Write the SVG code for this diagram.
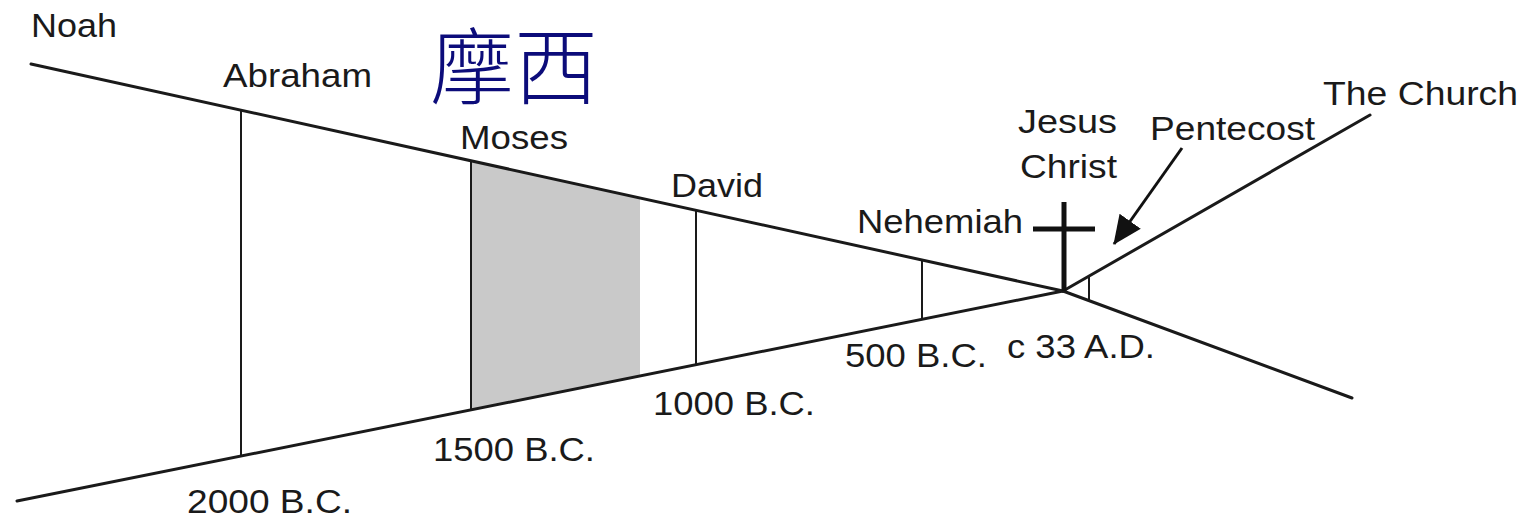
<svg xmlns="http://www.w3.org/2000/svg" width="1536" height="521" viewBox="0 0 1536 521">
<style>
.t{font-family:"Liberation Sans",Arial,sans-serif;font-size:34px;fill:#1a1a1a}
.ln{stroke:#1a1a1a;stroke-width:3;fill:none;stroke-linecap:round}
.v{stroke:#1a1a1a;stroke-width:2;fill:none}
.zh{font-family:"Noto Sans CJK TC","Noto Sans CJK SC",sans-serif;font-weight:300;font-size:84px;fill:#0c0c7a}
</style>
<defs>
<marker id="ah" markerUnits="userSpaceOnUse" markerWidth="30" markerHeight="28" refX="28" refY="13" orient="auto" viewBox="0 0 30 26">
<path d="M0,0 L29,13 L0,26 Z" fill="#111"/>
</marker>
</defs>
<rect width="1536" height="521" fill="#ffffff"/>
<g id="moses-era">
<polygon points="471,160.8 640,198 640,375.9 471,409.8" fill="#c9c9c9"/>
</g>
<g id="connectors">
<line class="ln" x1="31" y1="64" x2="1063" y2="291"/>
<line class="ln" x1="1063" y1="291" x2="1352" y2="398"/>
<line class="ln" x1="17" y1="501" x2="1063" y2="291"/>
<line class="ln" x1="1063" y1="291" x2="1370" y2="115"/>
<line class="v" x1="241" y1="110.2" x2="241" y2="456"/>
<line class="v" x1="471" y1="160.8" x2="471" y2="409.8"/>
<line class="v" x1="696" y1="210.3" x2="696" y2="364.7"/>
<line class="v" x1="922" y1="260" x2="922" y2="319.3"/>
<line class="v" x1="1089" y1="276" x2="1089" y2="300.5"/>
<line x1="1182" y1="148" x2="1114" y2="244" stroke="#111" stroke-width="3" marker-end="url(#ah)"/>
</g>
<g id="cross">
<line x1="1064" y1="202" x2="1064" y2="291" stroke="#111" stroke-width="5"/>
<line x1="1033" y1="229" x2="1095" y2="229" stroke="#111" stroke-width="5"/>
</g>
<g id="noah"><text class="t" x="31" y="37" textLength="86" lengthAdjust="spacingAndGlyphs">Noah</text></g>
<g id="abraham"><text class="t" x="223" y="87" textLength="149" lengthAdjust="spacingAndGlyphs">Abraham</text></g>
<g id="moses-zh"><text class="zh" x="430" y="98" textLength="168" lengthAdjust="spacingAndGlyphs">摩西</text></g>
<g id="moses"><text class="t" x="460" y="149" textLength="108" lengthAdjust="spacingAndGlyphs">Moses</text></g>
<g id="david"><text class="t" x="671" y="197" textLength="92" lengthAdjust="spacingAndGlyphs">David</text></g>
<g id="nehemiah"><text class="t" x="857" y="233" textLength="166" lengthAdjust="spacingAndGlyphs">Nehemiah</text></g>
<g id="jesus-christ">
<text class="t" x="1018" y="133" textLength="99" lengthAdjust="spacingAndGlyphs">Jesus</text>
<text class="t" x="1020" y="178" textLength="97" lengthAdjust="spacingAndGlyphs">Christ</text>
</g>
<g id="pentecost"><text class="t" x="1150" y="140" textLength="165" lengthAdjust="spacingAndGlyphs">Pentecost</text></g>
<g id="the-church"><text class="t" x="1323" y="105" textLength="195" lengthAdjust="spacingAndGlyphs">The Church</text></g>
<g id="d2000"><text class="t" x="187" y="513" textLength="165" lengthAdjust="spacingAndGlyphs">2000 B.C.</text></g>
<g id="d1500"><text class="t" x="433" y="461" textLength="162" lengthAdjust="spacingAndGlyphs">1500 B.C.</text></g>
<g id="d1000"><text class="t" x="653" y="415" textLength="162" lengthAdjust="spacingAndGlyphs">1000 B.C.</text></g>
<g id="d500"><text class="t" x="845" y="367" textLength="142" lengthAdjust="spacingAndGlyphs">500 B.C.</text></g>
<g id="d33"><text class="t" x="1007" y="358" textLength="148" lengthAdjust="spacingAndGlyphs">c 33 A.D.</text></g>
</svg>
